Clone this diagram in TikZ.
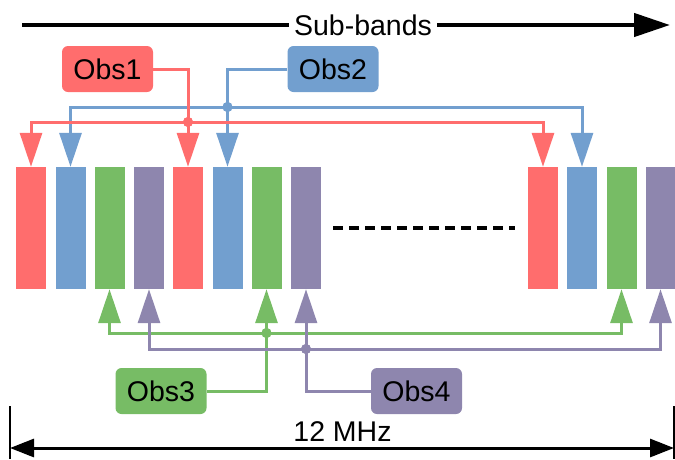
\documentclass[tikz,border=0pt]{standalone}
\usepackage{fontspec}
\setmainfont{Liberation Sans}
\usetikzlibrary{arrows.meta,positioning,calc}
\definecolor{obsred}{HTML}{FF6D6D}
\definecolor{obsblue}{HTML}{729FCF}
\definecolor{obsgreen}{HTML}{77BC65}
\definecolor{obspurple}{HTML}{8E86AE}
\tikzset{
    >=Triangle,
    band/.style={minimum width=30pt, minimum height=122pt, inner sep=0pt},
    obsbox/.style={rounded corners=6pt, minimum width=91pt, minimum height=46pt, inner sep=0pt},
    feed/.style={line width=3pt, -{Triangle[length=34pt,width=22pt]}},
    junc/.style={circle, inner sep=0pt, minimum size=10pt},
    big/.style={font=\fontsize{28.5}{32}\selectfont},
    rule/.style={line width=4.5pt},
}

\begin{document}
\begin{tikzpicture}[x=1pt,y=-1pt]
    \useasboundingbox (0,0) rectangle (675,459);
    % sub-band bars
    \foreach \x/\c/\n in {31/obsred/r1, 70.5/obsblue/b1, 109.5/obsgreen/g1, 149/obspurple/p1,
                          188/obsred/r2, 227.5/obsblue/b2, 266.5/obsgreen/g2, 306/obspurple/p2,
                          543/obsred/r3, 582/obsblue/b3, 621.5/obsgreen/g3, 660.5/obspurple/p3}
        \node[band, fill=\c] (\n) at (\x,228) {};
    \draw[line width=4pt, dash pattern=on 10pt off 6pt] ($(p2.east)+(12,0)$) -- ($(r3.west)+(-13,0)$);

    % observers
    \node[obsbox, big, fill=obsred]    (obs1) at (107.5,69)  {Obs1};
    \node[obsbox, big, fill=obsblue]   (obs2) at (333,69)    {Obs2};
    \node[obsbox, big, fill=obsgreen]  (obs3) at (161,391)   {Obs3};
    \node[obsbox, big, fill=obspurple] (obs4) at (416.5,391) {Obs4};

    % junctions
    \node[junc, fill=obsblue]   (jb) at (227.5,107) {};
    \node[junc, fill=obsred]    (jr) at (188,122)   {};
    \node[junc, fill=obsgreen]  (jg) at (266.5,333) {};
    \node[junc, fill=obspurple] (jp) at (306,349)   {};

    % Obs2
    \draw[feed, obsblue] (jb.center) -| (b1.north);
    \draw[feed, obsblue] (jb.center) -| (b3.north);
    \draw[feed, obsblue] (obs2.west) -| (b2.north);
    % Obs1
    \draw[feed, obsred] (jr.center) -| (r1.north);
    \draw[feed, obsred] (jr.center) -| (r3.north);
    \draw[feed, obsred] (obs1.east) -| (r2.north);
    \node[junc, fill=obsred] at (jr) {};
    % Obs3
    \draw[feed, obsgreen] (jg.center) -| (g1.south);
    \draw[feed, obsgreen] (jg.center) -| (g3.south);
    \draw[feed, obsgreen] (obs3.east) -| (g2.south);
    \node[junc, fill=obsgreen] at (jg) {};
    % Obs4
    \draw[feed, obspurple] (jp.center) -| (p1.south);
    \draw[feed, obspurple] (jp.center) -| (p3.south);
    \draw[feed, obspurple] (obs4.west) -| (p2.south);
    \node[junc, fill=obspurple] at (jp) {};
    \node[junc, fill=obsblue] at (jb) {};

    % sub-bands arrow
    \node[big, inner xsep=5pt] (sub) at (363,25) {Sub-bands};
    \coordinate (subL) at (22,25);
    \coordinate (subR) at (670,25);
    \draw[rule] (subL) -- (sub.west |- subL);
    \draw[rule, -{Triangle[length=36pt,width=23pt]}] (sub.east |- subR) -- (subR);

    % bandwidth
    \coordinate (dimL) at (10,406);
    \coordinate (dimR) at (674,406);
    \draw[line width=2pt] (dimL) -- ++(0,53);
    \draw[line width=2pt] (dimR) -- ++(0,53);
    \draw[line width=3pt, {Triangle[length=24pt,width=18pt]}-{Triangle[length=24pt,width=18pt]}]
        ($(dimL)+(0,42)$) -- ($(dimR)+(0,42)$);
    \node[big, anchor=base] (bw) at (342.5,441) {12 MHz};
\end{tikzpicture}
\end{document}
